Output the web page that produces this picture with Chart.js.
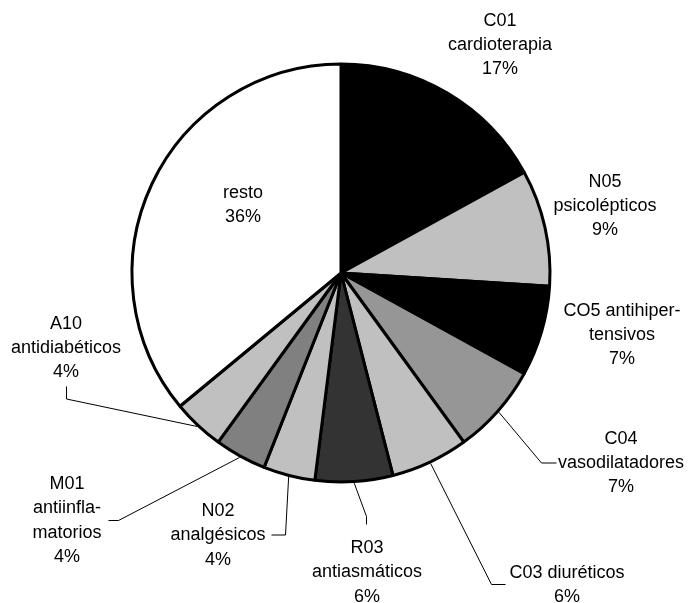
<!DOCTYPE html>
<html>
<head>
<meta charset="utf-8">
<script src="https://cdn.jsdelivr.net/npm/chart.js@4/dist/chart.umd.min.js"></script>
<style>
  html, body { margin: 0; padding: 0; background: #ffffff; }
  #wrap { width: 688px; height: 603px; }
</style>
</head>
<body>
<div id="wrap"><canvas id="pie" width="688" height="603"></canvas></div>
<script>
// Therapeutic groups, clockwise from 12 o'clock
const categories = ['C01', 'N05', 'CO5', 'C04', 'C03', 'R03', 'N02', 'M01', 'A10', 'resto'];
const labelLines = [
  ['C01', 'cardioterapia'],
  ['N05', 'psicolépticos'],
  ['CO5 antihiper-', 'tensivos'],
  ['C04', 'vasodilatadores'],
  ['C03 diuréticos'],
  ['R03', 'antiasmáticos'],
  ['N02', 'analgésicos'],
  ['M01', 'antiinfla-', 'matorios'],
  ['A10', 'antidiabéticos'],
  ['resto']
];
// Share of total (%)
const shares = [17, 9, 7, 7, 6, 6, 4, 4, 4, 36];
const sliceColors = ['#000000', '#c0c0c0', '#000000', '#969696', '#c0c0c0',
                     '#333333', '#c0c0c0', '#808080', '#c0c0c0', '#ffffff'];

// Label placement relative to the pie centre; a = end of leader line,
// t = short tick from that end towards the slice.
const labelLayout = [
  { dx: 159,  dy: -228 },
  { dx: 264,  dy: -67 },
  { dx: 281,  dy: 62 },
  { dx: 280,  dy: 190,  ax: 215.5, ay: 190,  tx: -15, ty: 0 },
  { dx: 226,  dy: 312,  ax: 164.5, ay: 311.5, tx: -14, ty: 0 },
  { dx: 26,   dy: 299.5, ax: 25.5, ay: 251.5, tx: 0,   ty: -8 },
  { dx: -123, dy: 262.5, ax: -69.5, ay: 262,  tx: 14,  ty: 0 },
  { dx: -274, dy: 247.5, ax: -232.5, ay: 247.5, tx: 10, ty: 0 },
  { dx: -275, dy: 75,   ax: -274.5, ay: 113.5, tx: 0,  ty: 12.5 },
  { dx: -98,  dy: -68 }
];

const FONT = '18px "Liberation Sans", Arial, sans-serif';
const LINE_H = 24.4;

const sliceLabels = {
  id: 'sliceLabels',
  afterDatasetsDraw(chart) {
    const ctx = chart.ctx;
    const arcs = chart.getDatasetMeta(0).data;
    const total = shares.reduce((a, b) => a + b, 0);
    ctx.save();
    ctx.font = FONT;
    ctx.fillStyle = '#000000';
    ctx.textAlign = 'center';
    ctx.textBaseline = 'middle';
    arcs.forEach((arc, i) => {
      const p = arc.getProps(['x', 'y', 'startAngle', 'endAngle', 'outerRadius'], true);
      const L = labelLayout[i];
      const cx = p.x + L.dx, cy = p.y + L.dy;
      const lines = labelLines[i].concat([Math.round(shares[i] / total * 100) + '%']);
      lines.forEach((t, k) => {
        ctx.fillText(t, cx, cy + (k - (lines.length - 1) / 2) * LINE_H);
      });
      if (L.ax !== undefined) {
        const mid = (p.startAngle + p.endAngle) / 2;
        const r = p.outerRadius + 1.5;
        const sx = p.x + Math.cos(mid) * r;
        const sy = p.y + Math.sin(mid) * r;
        const ax = p.x + L.ax, ay = p.y + L.ay;
        ctx.beginPath();
        ctx.strokeStyle = '#000000';
        ctx.lineWidth = 1;
        ctx.moveTo(ax, ay);
        ctx.lineTo(ax + L.tx, ay + L.ty);
        ctx.lineTo(sx, sy);
        ctx.stroke();
      }
    });
    ctx.restore();
  }
};

new Chart(document.getElementById('pie'), {
  type: 'pie',
  data: {
    labels: categories,
    datasets: [{
      data: shares,
      backgroundColor: sliceColors,
      borderColor: '#000000',
      borderWidth: 3,
      borderAlign: 'center'
    }]
  },
  options: {
    responsive: false,
    animation: false,
    radius: 209,
    layout: { padding: { left: 100, right: 106, top: 50, bottom: 107 } },
    plugins: {
      legend: { display: false },
      tooltip: { enabled: false }
    }
  },
  plugins: [sliceLabels]
});
</script>
</body>
</html>
